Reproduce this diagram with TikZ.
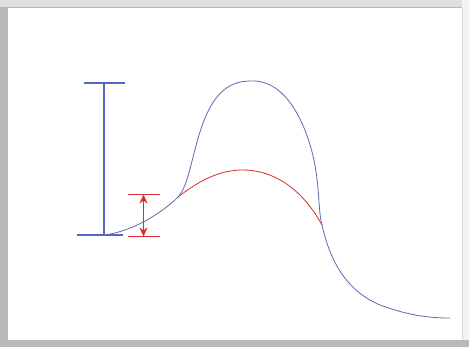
\documentclass[tikz,border=0pt]{standalone}
\usetikzlibrary{arrows.meta}
\definecolor{cblue}{RGB}{95,105,175}
\definecolor{bblue}{RGB}{85,100,200}
\definecolor{cred}{RGB}{215,45,45}
\begin{document}
\begin{tikzpicture}[x=1pt,y=-1pt,
  curveblue/.style={draw=cblue, line width=0.8pt},
  curvered/.style={draw=cred, line width=0.8pt},
  barblue/.style={draw=bblue, line width=2pt},
  barred/.style={draw=cred, line width=1pt},
  dimarrow/.style={draw=cred, line width=1.3pt, {Stealth[length=9pt,width=8pt]}-{Stealth[length=9pt,width=8pt]}}]
\useasboundingbox (0,0) rectangle (469,347);
% frame
\fill[gray!55] (0,0) rectangle (469,347);
\fill[gray!25] (0,0) rectangle (469,7);
\fill[gray!10] (462,0) rectangle (469,340);
\fill[white] (8,8) rectangle (462,340);
\draw[gray!30, line width=0.6pt] (462.5,8) -- (462.5,340);
% blue I-bar
\coordinate (bt) at (104,83);
\coordinate (bb) at (104,235);
\draw[barblue] (84,83) -- (125,83);
\draw[barblue] (77,235) -- (123,235);
\draw[barblue] (bt) -- (bb);
% red dimension
\coordinate (rt) at (143.5,194.5);
\coordinate (rb) at (143.5,236.5);
\draw[barred] (128,194.5) -- (160,194.5);
\draw[barred] (128,236.5) -- (160,236.5);
\draw[dimarrow] (rb) -- (rt);
% red curve
\draw[curvered] (178,197) .. controls (200,180) and (220,170) .. (243,170)
  .. controls (270,170) and (300,185) .. (322,225);
% blue curve
\draw[curveblue] (104,235) .. controls (130,232) and (160,215) .. (178,197)
  .. controls (190,184) and (192,150) .. (205,118)
  .. controls (220,82) and (240,81) .. (253,81)
  .. controls (285,81) and (305,120) .. (314,160)
  .. controls (320,190) and (318,210) .. (322,225)
  .. controls (330,260) and (345,290) .. (380,305)
  .. controls (410,316) and (430,318) .. (450,318);
\end{tikzpicture}
\end{document}
